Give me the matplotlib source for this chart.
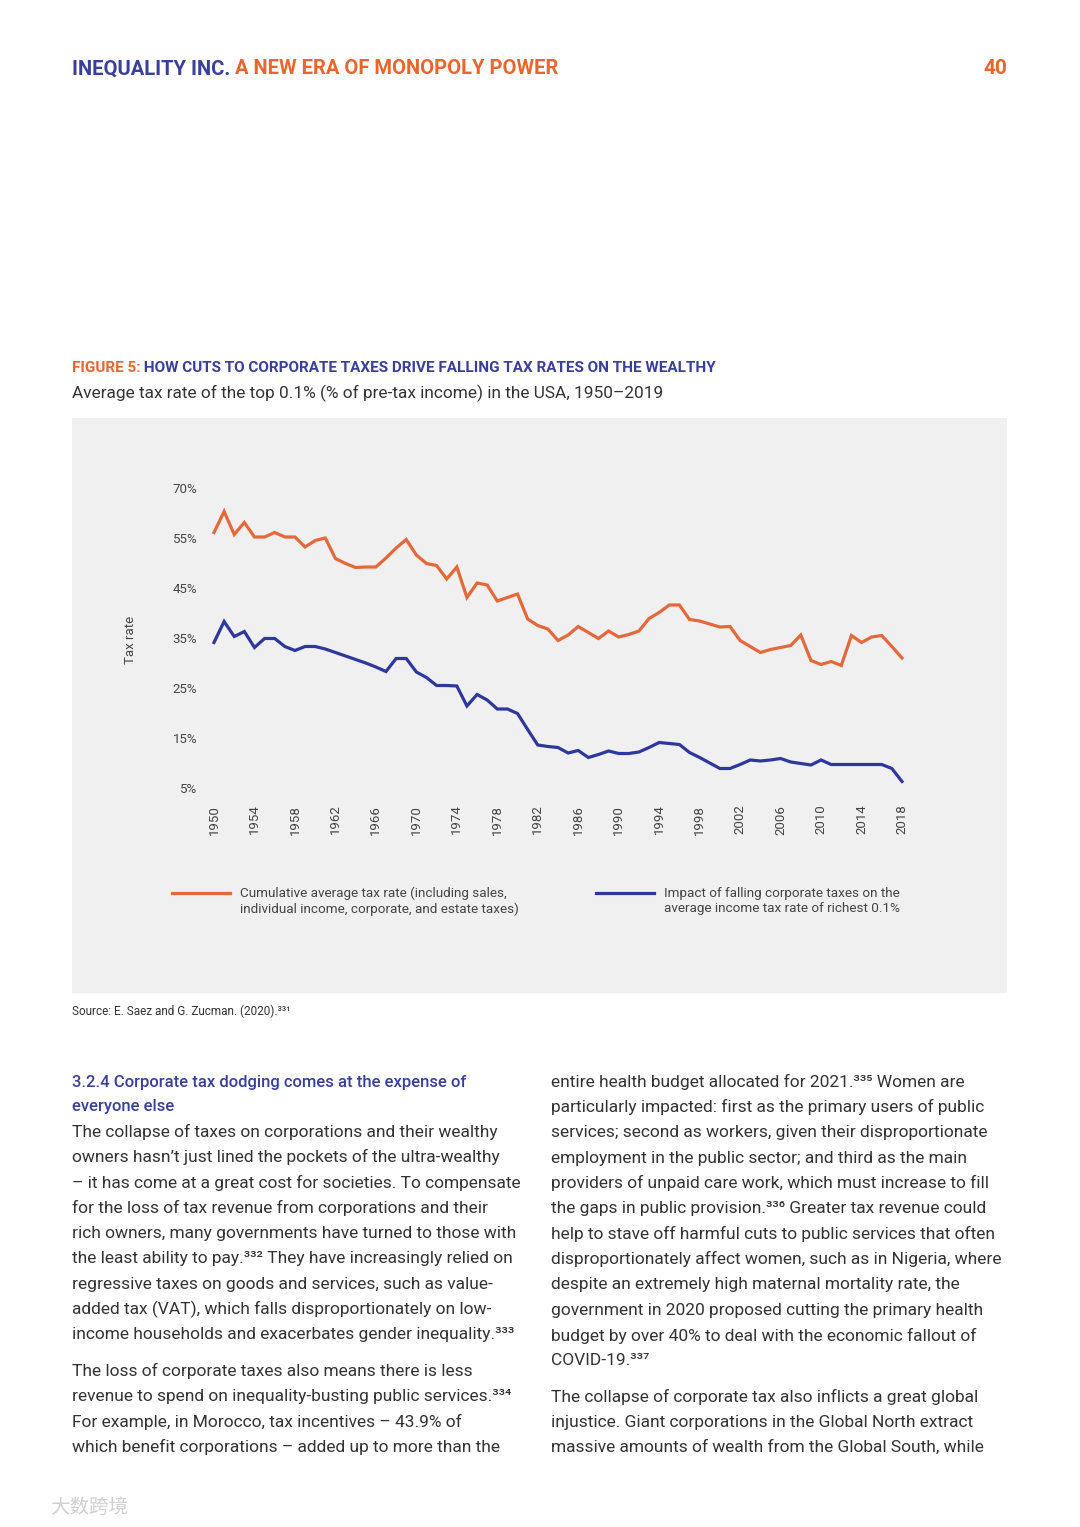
import matplotlib
matplotlib.use("Agg")
import matplotlib.pyplot as plt
from matplotlib import font_manager
from matplotlib.patches import Rectangle

# ---- data (% of pre-tax income) ----
years = list(range(1950, 2019))
cumulative_rate = [
    56.1, 60.3, 55.7, 58.1, 55.2, 55.2, 56.1, 55.2, 55.2, 53.2,
    54.5, 55.0, 50.9, 49.9, 49.1, 49.2, 49.2, 51.0, 53.0, 54.7,
    51.6, 49.9, 49.5, 46.8, 49.2, 43.1, 46.0, 45.6, 42.4, 43.1,
    43.8, 38.8, 37.5, 36.8, 34.5, 35.6, 37.3, 36.1, 34.9, 36.4,
    35.2, 35.7, 36.4, 38.9, 40.1, 41.6, 41.6, 38.7, 38.4, 37.8,
    37.2, 37.3, 34.5, 33.3, 32.1, 32.7, 33.1, 33.5, 35.6, 30.5,
    29.7, 30.3, 29.5, 35.5, 34.1, 35.2, 35.5, 33.3, 31.0,
]
corporate_impact = [
    34.1, 38.3, 35.3, 36.3, 33.1, 34.9, 34.9, 33.3, 32.5, 33.3,
    33.3, 32.8, 32.1, 31.4, 30.7, 30.0, 29.2, 28.3, 30.9, 30.9,
    28.2, 27.1, 25.5, 25.5, 25.4, 21.4, 23.7, 22.6, 20.8, 20.8,
    19.9, 16.7, 13.6, 13.3, 13.1, 12.0, 12.5, 11.1, 11.7, 12.4,
    11.9, 11.9, 12.2, 13.1, 14.1, 13.9, 13.7, 12.1, 11.1, 10.0,
    8.9, 8.9, 9.7, 10.6, 10.4, 10.6, 10.9, 10.2, 9.9, 9.6,
    10.6, 9.7, 9.7, 9.7, 9.7, 9.7, 9.7, 8.9, 6.3,
]
ytick_vals = [65, 55, 45, 35, 25, 15, 5]
ytick_labels = ["70%", "55%", "45%", "35%", "25%", "15%", "5%"]
xtick_years = list(range(1950, 2019, 4))

legend_orange = "Cumulative average tax rate (including sales,\nindividual income, corporate, and estate taxes)"
legend_blue = "Impact of falling corporate taxes on the\naverage income tax rate of richest 0.1%"

left_col = [
    "The collapse of taxes on corporations and their wealthy",
    "owners hasn\u2019t just lined the pockets of the ultra-wealthy",
    "\u2013 it has come at a great cost for societies. To compensate",
    "for the loss of tax revenue from corporations and their",
    "rich owners, many governments have turned to those with",
    "the least ability to pay.\u00b3\u00b3\u00b2 They have increasingly relied on",
    "regressive taxes on goods and services, such as value-",
    "added tax (VAT), which falls disproportionately on low-",
    "income households and exacerbates gender inequality.\u00b3\u00b3\u00b3",
]
left_col2 = [
    "The loss of corporate taxes also means there is less",
    "revenue to spend on inequality-busting public services.\u00b3\u00b3\u2074",
    "For example, in Morocco, tax incentives \u2013 43.9% of",
    "which benefit corporations \u2013 added up to more than the",
]
right_col = [
    "entire health budget allocated for 2021.\u00b3\u00b3\u2075 Women are",
    "particularly impacted: first as the primary users of public",
    "services; second as workers, given their disproportionate",
    "employment in the public sector; and third as the main",
    "providers of unpaid care work, which must increase to fill",
    "the gaps in public provision.\u00b3\u00b3\u2076 Greater tax revenue could",
    "help to stave off harmful cuts to public services that often",
    "disproportionately affect women, such as in Nigeria, where",
    "despite an extremely high maternal mortality rate, the",
    "government in 2020 proposed cutting the primary health",
    "budget by over 40% to deal with the economic fallout of",
    "COVID-19.\u00b3\u00b3\u2077",
]
right_col2 = [
    "The collapse of corporate tax also inflicts a great global",
    "injustice. Giant corporations in the Global North extract",
    "massive amounts of wealth from the Global South, while",
]

# ---- fonts and colours ----
names = {f.name for f in font_manager.fontManager.ttflist}
narrow = "Liberation Sans Narrow" if "Liberation Sans Narrow" in names else "Roboto"
body = "Roboto"
NARROW = [narrow, "DejaVu Sans"]
BODY = [body, "DejaVu Sans"]

BLUE = "#3a3f9c"
ORANGE = "#e8662e"
LINE_BLUE = "#2e379c"
LINE_ORANGE = "#e5683a"
TEXT = "#333333"
PANEL = "#f0f0f0"

W, H = 1080, 1527
fig = plt.figure(figsize=(W / 100, H / 100), dpi=100)
fig.patch.set_facecolor("white")


def fx(x):
    return x / W


def fy(y):
    return 1 - y / H


renderer = fig.canvas.get_renderer()


def text_run(x, y, parts, **kw):
    # draw text pieces of different colours one after another
    for s, c in parts:
        t = fig.text(fx(x), fy(y), s, color=c, va="center", ha="left", **kw)
        bb = t.get_window_extent(renderer=renderer)
        x += bb.width


# header
text_run(72, 69, [("INEQUALITY INC.", BLUE), (" A NEW ERA OF MONOPOLY POWER", ORANGE)],
         family=NARROW, fontsize=14.5, weight="bold")
fig.text(fx(1007), fy(69), "40", color=ORANGE, ha="right", va="center",
         family=NARROW, fontsize=15, weight="bold")

# figure title
text_run(72, 368, [("FIGURE 5:", ORANGE),
                   (" HOW CUTS TO CORPORATE TAXES DRIVE FALLING TAX RATES ON THE WEALTHY", BLUE)],
         family=NARROW, fontsize=11, weight="bold")
fig.text(fx(72), fy(393), "Average tax rate of the top 0.1% (% of pre-tax income) in the USA, 1950\u20132019",
         color=TEXT, ha="left", va="center", family=BODY, fontsize=12.4)

# grey chart panel
fig.add_artist(Rectangle((fx(72), fy(993)), fx(1007) - fx(72), fy(418) - fy(993),
                         transform=fig.transFigure, facecolor=PANEL, edgecolor="none", zorder=-1))

# the chart itself
ax = fig.add_axes([fx(214), fy(788), fx(902) - fx(214), fy(488) - fy(788)])
ax.set_facecolor("none")
ax.plot(years, cumulative_rate, color=LINE_ORANGE, lw=2.3, clip_on=False,
        solid_joinstyle="miter")
ax.plot(years, corporate_impact, color=LINE_BLUE, lw=2.3, clip_on=False,
        solid_joinstyle="miter")
ax.set_xlim(1950, 2018)
ax.set_ylim(5, 65)
ax.set_yticks(ytick_vals)
ax.set_yticklabels(ytick_labels, family=NARROW, fontsize=9.5, color="#444444")
ax.set_xticks(xtick_years)
ax.set_xticklabels([str(y) for y in xtick_years], rotation=90, family=NARROW,
                   fontsize=9.5, color="#444444")
ax.tick_params(axis="y", length=0, pad=12)
ax.tick_params(axis="x", length=0, pad=12)
for sp in ax.spines.values():
    sp.set_visible(False)
fig.text(fx(130), fy(640), "Tax rate", rotation=90, ha="center", va="center",
         family=NARROW, fontsize=9.5, color="#444444")

# legend drawn by hand to follow the layout of the panel
fig.add_artist(plt.Line2D([fx(172), fx(230)], [fy(893), fy(893)], color=LINE_ORANGE,
                          lw=2.3, transform=fig.transFigure))
fig.text(fx(240), fy(901), legend_orange, ha="left", va="center", family=NARROW,
         fontsize=9.7, color="#444444", linespacing=1.25)
fig.add_artist(plt.Line2D([fx(596), fx(654)], [fy(893), fy(893)], color=LINE_BLUE,
                          lw=2.3, transform=fig.transFigure))
fig.text(fx(664), fy(901), legend_blue, ha="left", va="center", family=NARROW,
         fontsize=9.7, color="#444444", linespacing=1.25)

# source line
fig.text(fx(72), fy(1011), "Source: E. Saez and G. Zucman. (2020).\u00b3\u00b3\u00b9", ha="left",
         va="center", family=BODY, fontsize=8.5, color=TEXT)

# body text
step = 25.35
fs = 12.55
fig.text(fx(72), fy(1082), "3.2.4 Corporate tax dodging comes at the expense of",
         ha="left", va="center", family=BODY, fontsize=12, color=BLUE, weight="medium")
fig.text(fx(72), fy(1107), "everyone else", ha="left", va="center", family=BODY,
         fontsize=12, color=BLUE, weight="medium")
for i, line in enumerate(left_col):
    fig.text(fx(72), fy(1132 + i * step), line, ha="left", va="center",
             family=BODY, fontsize=fs, color=TEXT)
for i, line in enumerate(left_col2):
    fig.text(fx(72), fy(1371 + i * step), line, ha="left", va="center",
             family=BODY, fontsize=fs, color=TEXT)
for i, line in enumerate(right_col):
    fig.text(fx(551), fy(1082 + i * step), line, ha="left", va="center",
             family=BODY, fontsize=fs, color=TEXT)
for i, line in enumerate(right_col2):
    fig.text(fx(551), fy(1397 + i * step), line, ha="left", va="center",
             family=BODY, fontsize=fs, color=TEXT)

# faint watermark in the corner
fig.text(fx(50), fy(1507), "\u5927\u6570\u8de8\u5883", ha="left", va="center",
         family=["Noto Sans CJK SC", "DejaVu Sans"], fontsize=14, color="#d0d0d0")

fig.savefig("out.png", dpi=100, facecolor="white")
